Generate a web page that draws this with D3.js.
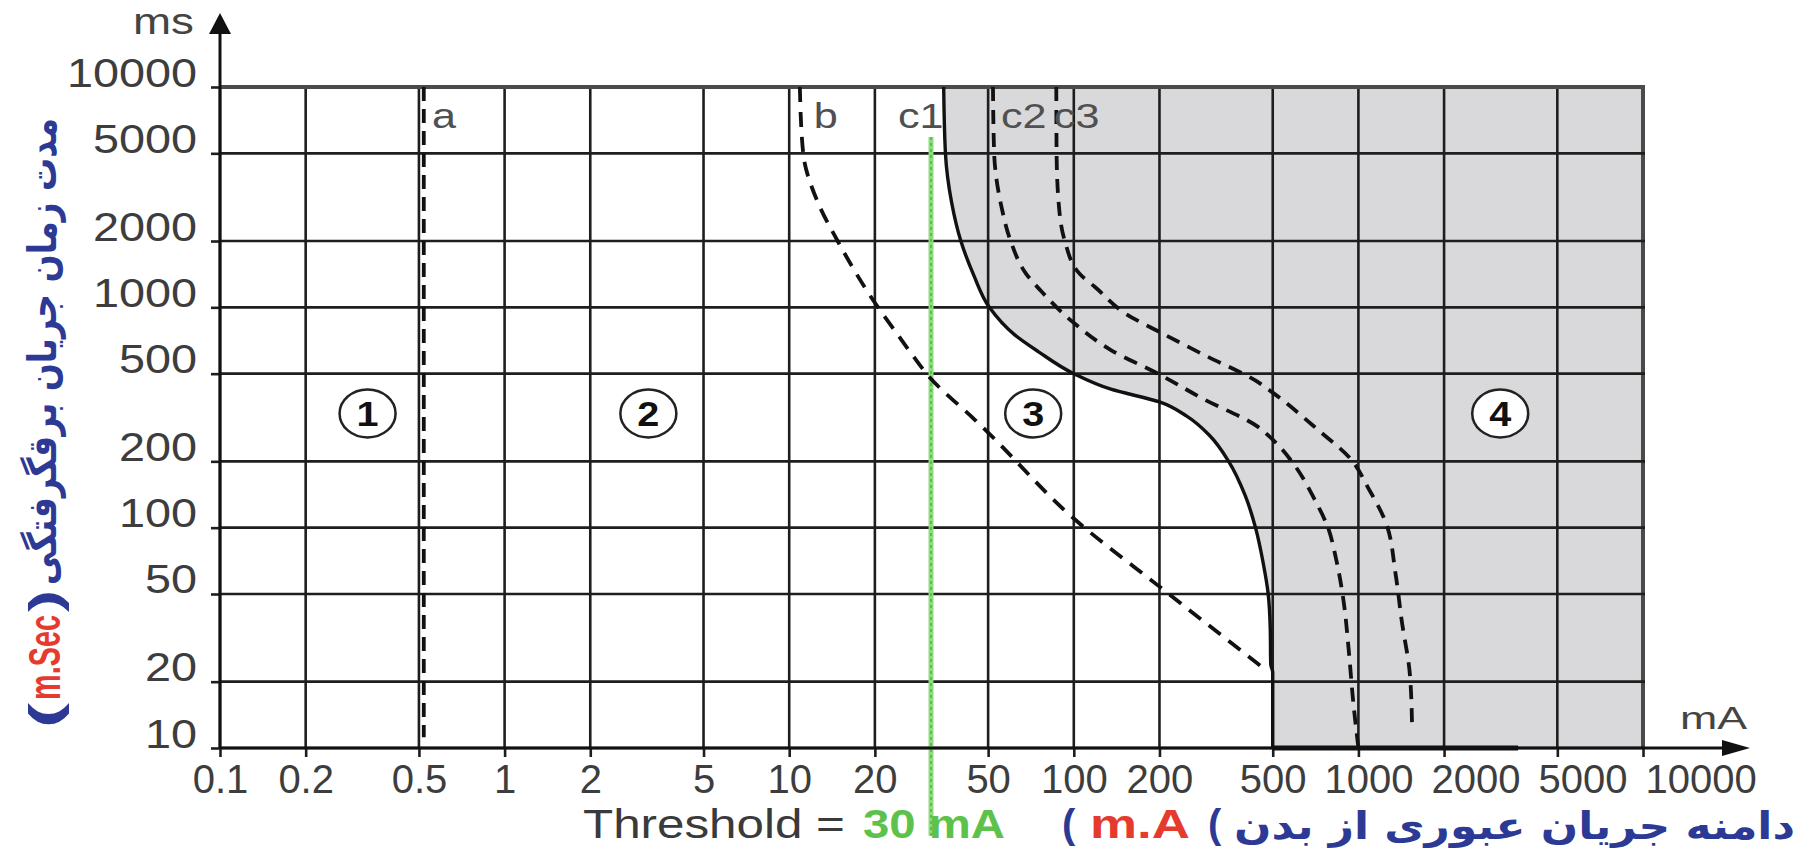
<!DOCTYPE html>
<html>
<head>
<meta charset="utf-8">
<script src="https://cdn.jsdelivr.net/npm/d3@7"></script>
<style>
body { margin: 0; background: #fff; }
svg { display: block; }
text { font-family: "Liberation Sans", Arial, sans-serif; }
.ltr { direction: ltr; unicode-bidi: bidi-override; }
</style>
</head>
<body>
<svg id="chart"></svg>
<script>
// ---- data (mA , ms) ----
var xTicks = [0.1, 0.2, 0.5, 1, 2, 5, 10, 20, 50, 100, 200, 500, 1000, 2000, 5000, 10000];
var yTicks = [10, 20, 50, 100, 200, 500, 1000, 2000, 5000, 10000];

var curveA = [[0.52, 10000], [0.52, 11.2]];
var curveB = [[10.9, 10000], [11.2, 5000], [12.6, 3000], [14.8, 2000], [20.2, 1030], [23.4, 790],
              [27.3, 600], [31, 485], [45, 308], [50, 270], [100, 110], [200, 54], [465, 23]];
var curveC1 = [[34.9, 10000], [35.4, 5000], [37.2, 3000], [40.1, 2000], [44.5, 1400], [50.5, 1000],
               [62, 750], [75, 630], [100, 500], [135, 425], [200, 372], [250, 320], [300, 262],
               [350, 200], [400, 140], [435, 100], [462, 70], [482, 50], [490, 35], [492, 24], [500, 22], [500, 10]];
var curveC1Base = [[500, 10], [3640, 10]];
var curveC2 = [[52, 10000], [52.5, 5000], [55.7, 2860], [60, 2000], [68, 1420], [77, 1180], [100, 850],
               [135, 640], [200, 496], [285, 384], [440, 289], [500, 251], [600, 190], [700, 135],
               [782, 100], [835, 72], [892, 44], [922, 29], [960, 16], [1000, 10]];
var curveC3 = [[86.8, 10000], [87, 5000], [88.7, 2860], [93, 2000], [105, 1416], [119, 1233],
               [153, 931], [200, 773], [285, 611], [440, 461], [500, 410], [726, 276], [930, 208],
               [1087, 150], [1250, 105], [1350, 62], [1419, 38], [1517, 21.5], [1545, 12]];

var curveNames = ["a", "b", "c1", "c2", "c3"];
var curveNameAt = [0.556, 12.2, 24.1, 55.5, 85.1];
var curveNameMs = 6500;

var zoneNames = ["1", "2", "3", "4"];
var zoneAtMa = [0.33, 3.2, 72, 3150];
var zoneAtMs = 330;

var thresholdMa = 31.5;
var thresholdMs = [5930, 4];

// ---- setup ----
var svg = d3.select("#chart").attr("width", 1810).attr("height", 850);

var x = d3.scaleLog().domain([0.1, 10000]).range([220, 1643]);
var y = d3.scaleLog().domain([10, 10000]).range([748, 87]);

var line = d3.line()
    .x(function(d) { return x(d[0]); })
    .y(function(d) { return y(d[1]); })
    .curve(d3.curveMonotoneY);
var straight = d3.line()
    .x(function(d) { return x(d[0]); })
    .y(function(d) { return y(d[1]); });

// stretch a text horizontally so that it runs from x0 to x1
function fitX(t, x0, x1, ky)
{
    ky = ky || 1;
    var b = t.node().getBBox();
    var by = +t.attr("y");
    t.attr("transform", "translate(" + x0 + "," + by + ") scale(" + ((x1 - x0) / b.width) + "," + ky + ") translate(" + (-b.x) + "," + (-by) + ")");
}

// zone 4 shading, right of c1
var shade = line(curveC1) + "L" + x(3640) + "," + y(10) + "L" + x(10000) + "," + y(10) + "L" + x(10000) + "," + y(10000) + "Z";
svg.append("path").attr("d", shade).attr("fill", "#d9d9db");

// grid
svg.append("g").selectAll("line")
    .data(xTicks)
    .enter()
    .append("line")
    .attr("x1", function(d) { return x(d); })
    .attr("x2", function(d) { return x(d); })
    .attr("y1", y(10))
    .attr("y2", y(10000))
    .attr("stroke", function(d) { return d == 10000 ? "#4a4a4a" : "#1e1e1e"; })
    .attr("stroke-width", function(d) { return d == 10000 ? 4 : 2.6; });

svg.append("g").selectAll("line")
    .data(yTicks)
    .enter()
    .append("line")
    .attr("x1", x(0.1))
    .attr("x2", x(10000) + 2)
    .attr("y1", function(d) { return y(d); })
    .attr("y2", function(d) { return y(d); })
    .attr("stroke", function(d) { return d == 10000 ? "#4a4a4a" : "#1e1e1e"; })
    .attr("stroke-width", function(d) { return d == 10000 ? 4 : 2.6; });

// threshold line
svg.append("line")
    .attr("x1", x(thresholdMa)).attr("x2", x(thresholdMa))
    .attr("y1", y(thresholdMs[0])).attr("y2", y(thresholdMs[1]))
    .attr("stroke", "#8fdb80").attr("stroke-width", 5);
svg.append("line")
    .attr("x1", x(thresholdMa)).attr("x2", x(thresholdMa))
    .attr("y1", y(thresholdMs[0])).attr("y2", y(thresholdMs[1]))
    .attr("stroke", "#5bbf4b").attr("stroke-width", 2).attr("stroke-dasharray", "3,3");

// axes
var xAxis = d3.axisBottom(x).tickValues(xTicks).tickFormat(function(d) { return String(d); }).tickSize(9);
var gx = svg.append("g").attr("transform", "translate(0," + y(10) + ")").call(xAxis);
gx.select(".domain").remove();
gx.selectAll(".tick line").attr("stroke", "#1e1e1e").attr("stroke-width", 2.6);
gx.selectAll(".tick text")
    .attr("y", 45).attr("dy", null)
    .attr("font-size", 40).attr("fill", "#3d3d3d");

// push crowded labels to the right
var prevRight = -1e9;
gx.selectAll(".tick text").each(function(d)
{
    var w = this.getBBox().width;
    var left = x(d) - w / 2;
    var shift = 0;
    if (left < prevRight + 18) { shift = prevRight + 18 - left; }
    d3.select(this).attr("x", shift);
    prevRight = left + shift + w;
});

var yAxis = d3.axisLeft(y).tickValues(yTicks).tickFormat(function(d) { return String(d); }).tickSize(9);
var gy = svg.append("g").attr("transform", "translate(" + x(0.1) + ",0)").call(yAxis);
gy.select(".domain").remove();
gy.selectAll(".tick line").attr("stroke", "#1e1e1e").attr("stroke-width", 2.6);
gy.selectAll(".tick text")
    .attr("x", 0).attr("y", 0).attr("dy", null)
    .attr("font-size", 40).attr("fill", "#3d3d3d")
    .attr("transform", "translate(-23,-1) scale(1.17,1)");

// axis lines with arrows
svg.append("line")
    .attr("x1", x(0.1)).attr("x2", x(10000) + 85)
    .attr("y1", y(10)).attr("y2", y(10))
    .attr("stroke", "#111").attr("stroke-width", 3);
svg.append("path")
    .attr("d", "M" + (x(10000) + 107) + "," + y(10) + "l-28,-8l0,16z")
    .attr("fill", "#111");
svg.append("line")
    .attr("x1", x(0.1)).attr("x2", x(0.1))
    .attr("y1", y(10)).attr("y2", y(10000) - 55)
    .attr("stroke", "#111").attr("stroke-width", 3);
svg.append("path")
    .attr("d", "M" + x(0.1) + "," + (y(10000) - 74) + "l-11,21l22,0z")
    .attr("fill", "#111");

// curves
svg.append("path").attr("d", straight(curveA))
    .attr("fill", "none").attr("stroke", "#111").attr("stroke-width", 3.8).attr("stroke-dasharray", "14,8");
svg.append("path").attr("d", line(curveB))
    .attr("fill", "none").attr("stroke", "#111").attr("stroke-width", 3.8).attr("stroke-dasharray", "15,10");
svg.append("path").attr("d", line(curveC2))
    .attr("fill", "none").attr("stroke", "#111").attr("stroke-width", 3.8).attr("stroke-dasharray", "14,9");
svg.append("path").attr("d", line(curveC3))
    .attr("fill", "none").attr("stroke", "#111").attr("stroke-width", 3.8).attr("stroke-dasharray", "14,9");
svg.append("path").attr("d", line(curveC1))
    .attr("fill", "none").attr("stroke", "#111").attr("stroke-width", 3.4);
svg.append("path").attr("d", straight(curveC1Base))
    .attr("fill", "none").attr("stroke", "#111").attr("stroke-width", 5);

// curve names
svg.append("g").selectAll("text")
    .data(curveNames)
    .enter()
    .append("text")
    .attr("transform", function(d, i) { return "translate(" + x(curveNameAt[i]) + "," + y(curveNameMs) + ") scale(1.2,1)"; })
    .attr("font-size", 36)
    .attr("fill", "#505050")
    .text(function(d) { return d; });

// zone markers
var zones = svg.append("g").selectAll("g")
    .data(zoneNames)
    .enter()
    .append("g")
    .attr("transform", function(d, i) { return "translate(" + x(zoneAtMa[i]) + "," + y(zoneAtMs) + ")"; });
zones.append("ellipse")
    .attr("rx", 28).attr("ry", 24)
    .attr("fill", "#fff").attr("stroke", "#222").attr("stroke-width", 2.5);
zones.append("text")
    .attr("text-anchor", "middle").attr("dy", "0.36em")
    .attr("font-size", 36).attr("font-weight", "bold").attr("fill", "#111")
    .attr("transform", "scale(1.1,1)")
    .text(function(d) { return d; });

// axis units
fitX(svg.append("text").attr("x", 0).attr("y", 34).attr("font-size", 36).attr("fill", "#444").text("ms"), 133, 194);
fitX(svg.append("text").attr("x", 0).attr("y", 729).attr("font-size", 32).attr("fill", "#444").text("mA"), 1680, 1748);

// bottom caption
fitX(svg.append("text").attr("x", 0).attr("y", 838).attr("font-size", 40).attr("fill", "#3a3a3a").text("Threshold ="), 583, 845);
fitX(svg.append("text").attr("x", 0).attr("y", 838).attr("font-size", 40).attr("font-weight", "bold").attr("fill", "#5cc24c").text("30 mA"), 863, 1005);
fitX(svg.append("text").attr("x", 0).attr("y", 838).attr("class", "ltr").attr("font-size", 40).attr("font-weight", "bold").attr("fill", "#2c3a96").text("("), 1062, 1076);
fitX(svg.append("text").attr("x", 0).attr("y", 838).attr("font-size", 40).attr("font-weight", "bold").attr("fill", "#e53a2e").text("m.A"), 1090, 1190);
fitX(svg.append("text").attr("x", 0).attr("y", 838).attr("class", "ltr").attr("font-size", 40).attr("font-weight", "bold").attr("fill", "#2c3a96").text("("), 1208, 1222);
fitX(svg.append("text").attr("x", 0).attr("y", 839).attr("font-size", 38).attr("font-weight", "bold").style("font-family", "'DejaVu Sans'").attr("fill", "#2c3a96").text("دامنه جریان عبوری از بدن"), 1234, 1795);

// vertical title
var gt = svg.append("g").attr("transform", "rotate(-90)");
fitX(gt.append("text").attr("x", 0).attr("y", 56).attr("font-size", 38).attr("font-weight", "bold").style("font-family", "'DejaVu Sans'").attr("fill", "#2c3a96").text("مدت زمان جریان برقگرفتگی"), -585, -118, 1.05);
fitX(gt.append("text").attr("x", 0).attr("y", 60).attr("class", "ltr").attr("font-size", 36).attr("font-weight", "bold").attr("fill", "#2c3a96").text("("), -728, -703, 1.25);
fitX(gt.append("text").attr("x", 0).attr("y", 60).attr("font-size", 36).attr("font-weight", "bold").attr("fill", "#e53a2e").text("m.Sec"), -700, -615, 1.25);
fitX(gt.append("text").attr("x", 0).attr("y", 60).attr("class", "ltr").attr("font-size", 36).attr("font-weight", "bold").attr("fill", "#2c3a96").text(")"), -612, -590, 1.25);
</script>
</body>
</html>
